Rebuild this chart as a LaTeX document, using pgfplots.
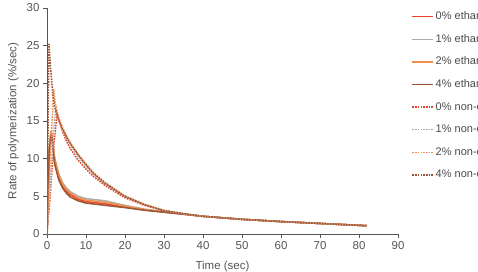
\documentclass[border=0pt]{standalone}
\usepackage{pgfplots}
\pgfplotsset{compat=1.18}
\usepackage{fontspec}
\setmainfont{Liberation Sans}
\definecolor{ethR}{HTML}{E8462C}
\definecolor{ethG}{HTML}{ABABAB}
\definecolor{ethO}{HTML}{F0904A}
\definecolor{ethB}{HTML}{9A5536}
\definecolor{axc}{HTML}{555555}
\definecolor{legc}{HTML}{4A4A4A}
\begin{document}
\begin{tikzpicture}
\useasboundingbox (0pt,0pt) rectangle (478pt,271pt);
\clip (0pt,0pt) rectangle (478pt,271pt);
\begin{axis}[
  at={(47pt,37pt)}, anchor=south west,
  scale only axis, width=351pt, height=226pt,
  xmin=0, xmax=90, ymin=0, ymax=30,
  xtick={0,10,...,90}, ytick={0,5,...,30},
  axis x line*=bottom, axis y line*=left,
  axis line style={axc, line width=0.8pt, -},
  tick style={axc, line width=0.8pt},
  tick align=outside, major tick length=4pt,
  ticklabel style={font=\fontsize{11.5}{14}\selectfont, text=axc},
  /pgf/number format/assume math mode=true,
  xlabel={Time (sec)}, ylabel={Rate of polymerization (\%/sec)},
  label style={font=\fontsize{11.5}{13}\selectfont, text=axc},
  xlabel style={yshift=-5pt},
  ylabel style={yshift=1pt},
  legend cell align=left,
  legend style={at={(rel axis cs:1.03,0.998)}, anchor=north west, draw=none, fill=none,
    font=\fontsize{11}{13}\selectfont, text=legc, row sep=10.6pt,
    nodes={inner sep=1.5pt, text height=7.5pt, text depth=1.5pt}},
  legend image code/.code={\draw[#1] (0pt,0pt) -- (21pt,0pt);},
  every axis plot/.append style={line width=1.5pt, line join=round},
]
% solid: ethanol
\addplot[color=ethR] coordinates {(0,0)(0.3,6)(0.6,11)(1,13.3)(1.3,13)(1.6,11.3)(2,9.6)(3,7.6)(4,6.4)(5,5.7)(6,5.2)(8,4.6)(10,4.3)(15,4.0)(20,3.6)(25,3.2)(30,2.9)(40,2.35)(50,1.95)(60,1.65)(70,1.4)(82,1.1)};
\addlegendentry{0\% ethanol}
\addplot[color=ethG] coordinates {(0,0)(0.3,6)(0.6,11)(1,13.2)(1.3,13)(1.6,11.5)(2,9.9)(3,8.0)(4,6.8)(5,6.1)(6,5.6)(8,5.0)(10,4.7)(15,4.4)(20,3.8)(25,3.3)(30,2.95)(40,2.35)(50,1.95)(60,1.65)(70,1.4)(82,1.1)};
\addlegendentry{1\% ethanol}
\addplot[color=ethO] coordinates {(0,0)(0.3,6.5)(0.6,11.5)(1,13.6)(1.3,13.3)(1.6,11.8)(2,10)(3,7.9)(4,6.6)(5,5.9)(6,5.4)(8,4.8)(10,4.5)(15,4.2)(20,3.7)(25,3.25)(30,2.95)(40,2.35)(50,1.95)(60,1.65)(70,1.4)(82,1.1)};
\addlegendentry{2\% ethanol}
\addplot[color=ethB] coordinates {(0,0)(0.3,6)(0.6,11)(1,13.1)(1.3,12.6)(1.6,10.8)(2,9.2)(3,7.2)(4,6.1)(5,5.4)(6,4.9)(8,4.4)(10,4.1)(15,3.8)(20,3.5)(25,3.15)(30,2.9)(40,2.35)(50,1.95)(60,1.65)(70,1.4)(82,1.1)};
\addlegendentry{4\% ethanol}
% dashed: non-ethanol
\addplot[color=ethR, dash pattern=on 1.6pt off 1.1pt] coordinates {(0,0)(0.8,5)(1.6,11)(2.6,16)(3,15.2)(4,13.6)(5,12.3)(6,11.3)(8,9.8)(10,8.6)(12,7.6)(15,6.4)(20,4.8)(25,3.8)(30,3.1)(35,2.7)(40,2.35)(50,1.95)(60,1.65)(70,1.4)(82,1.1)};
\addlegendentry{0\% non-ethanol}
\addplot[color=ethG, dash pattern=on 1.6pt off 1.1pt] coordinates {(0,0)(0.8,6)(1.5,12)(2.2,16.5)(3,15.4)(4,14)(5,12.8)(6,11.8)(8,10.3)(10,9.0)(12,7.9)(15,6.6)(20,4.95)(25,3.9)(30,3.1)(35,2.7)(40,2.35)(50,1.95)(60,1.65)(70,1.4)(82,1.1)};
\addlegendentry{1\% non-ethanol}
\addplot[color=ethO, dash pattern=on 1.6pt off 1.1pt] coordinates {(0,0)(0.6,7)(1.2,14)(1.7,19.2)(2.2,17.2)(3,15.4)(4,14.1)(5,13)(6,12.1)(8,10.6)(10,9.3)(12,8.1)(15,6.8)(20,5.05)(25,3.95)(30,3.15)(35,2.7)(40,2.35)(50,1.95)(60,1.65)(70,1.4)(82,1.1)};
\addlegendentry{2\% non-ethanol}
\addplot[color=ethB, dash pattern=on 1.6pt off 1.1pt] coordinates {(0,0)(0.25,13)(0.5,25.2)(1,21.5)(1.5,18.5)(2,16.8)(3,15.1)(4,13.9)(5,12.9)(6,12)(8,10.5)(10,9.2)(12,8.0)(15,6.7)(20,5.0)(25,3.9)(30,3.1)(35,2.7)(40,2.35)(50,1.95)(60,1.65)(70,1.4)(82,1.1)};
\addlegendentry{4\% non-ethanol}
\end{axis}
\end{tikzpicture}
\end{document}
